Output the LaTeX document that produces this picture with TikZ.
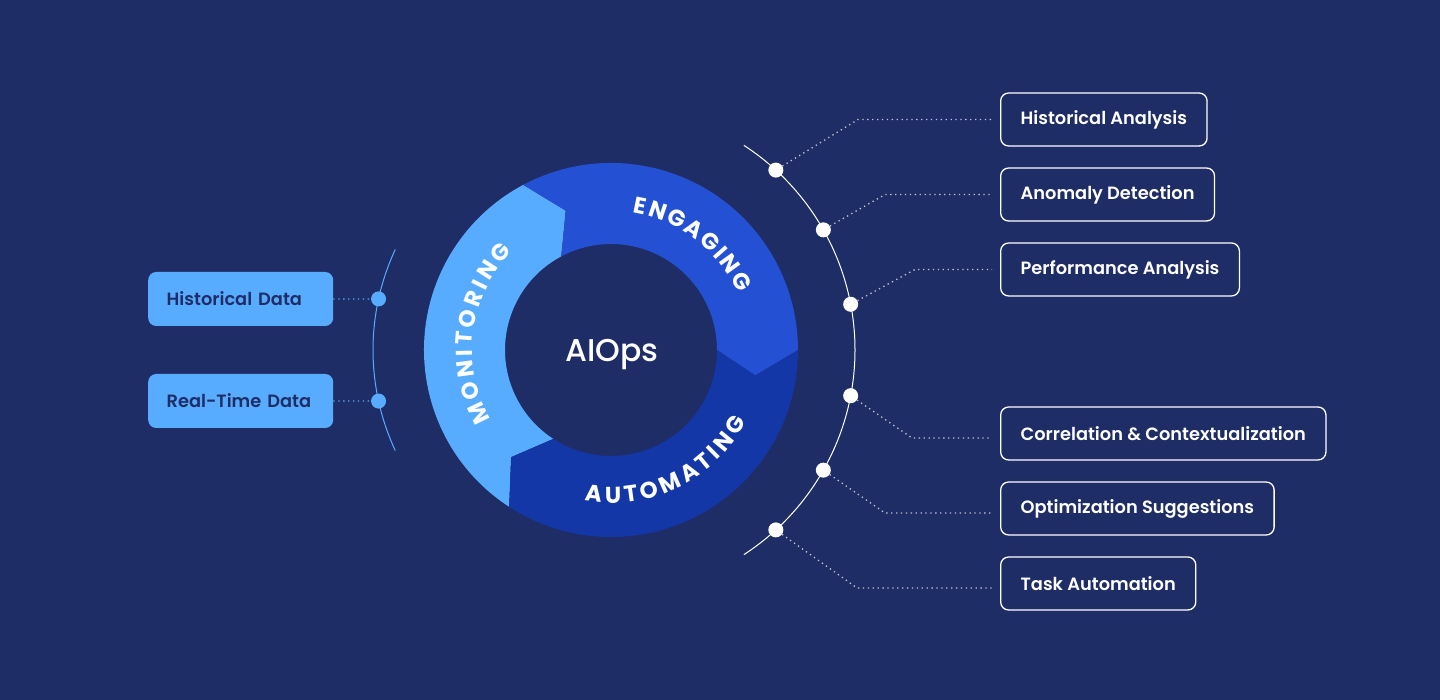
\documentclass[tikz,border=0pt]{standalone}
\usepackage{fontspec}
\setmainfont{Poppins}
\newfontfamily\semib{Poppins SemiBold}
\newfontfamily\medf{Poppins Medium}
\usepackage{tikz}
\usetikzlibrary{calc}
\usetikzlibrary{decorations.text}
\definecolor{bg}{HTML}{1F2D66}
\definecolor{lb}{HTML}{58ACFF}
\definecolor{eg}{HTML}{2451D3}
\definecolor{au}{HTML}{1437A8}
\tikzstyle{wdot} = [circle, fill=white, minimum size=15pt, inner sep=0pt]
\tikzstyle{bdot} = [circle, fill=lb, minimum size=15pt, inner sep=0pt]
\tikzstyle{outbox} = [draw=white, line width=1.3pt, rounded corners=8pt, minimum height=53pt, inner xsep=20pt, anchor=west, text=white, font=\semib\fontsize{17.8}{20}\selectfont]
\tikzstyle{inbox} = [fill=lb, rounded corners=8pt, minimum height=54pt, text width=148pt, inner xsep=18.5pt, align=left, anchor=west, text=bg, font=\semib\fontsize{17.8}{20}\selectfont]
\tikzstyle{dline} = [white!72!bg, line width=1.3pt, dash pattern=on 1.3pt off 3.6pt, shorten >=8pt]
\tikzstyle{ldline} = [lb, line width=1.3pt, dash pattern=on 1.3pt off 3.6pt]
\tikzstyle{arcword} = [decorate, decoration={text along path, text color=white, text align={fit to path}}]

\begin{document}
\begin{tikzpicture}[x=1pt,y=1pt]
			\fill[bg] (0,0) rectangle (1440,700);
			\coordinate (C) at (611,350);
			% ring of three arrows
			\fill[lb] ($(C)+(237:187)$) arc[start angle=237, end angle=118, radius=187] -- ($(C)+(108:146.5)$) -- ($(C)+(118:106)$) arc[start angle=118, end angle=237, radius=106] -- ($(C)+(227:146.5)$) -- cycle;
			\fill[eg] ($(C)+(118:187)$) arc[start angle=118, end angle=0, radius=187] -- ($(C)+(-10:146.5)$) -- ($(C)+(0:106)$) arc[start angle=0, end angle=118, radius=106] -- ($(C)+(108:146.5)$) -- cycle;
			\fill[au] ($(C)+(0:187)$) arc[start angle=0, end angle=-123, radius=187] -- ($(C)+(-133:146.5)$) -- ($(C)+(-123:106)$) arc[start angle=-123, end angle=0, radius=106] -- ($(C)+(-10:146.5)$) -- cycle;
			\path[arcword, decoration={text={|\bfseries\fontsize{23}{23}\selectfont|MONITORING}}] ($(C)+(210:139)$) arc[start angle=210, end angle=135, radius=139];
			\path[arcword, decoration={text={|\bfseries\fontsize{23}{23}\selectfont|ENGAGING}}] ($(C)+(81:139)$) arc[start angle=81, end angle=24, radius=139];
			\path[arcword, decoration={text={|\bfseries\fontsize{23}{23}\selectfont|AUTOMATING}}] ($(C)+(260:153)$) arc[start angle=260, end angle=332, radius=153];
			\node[anchor=base, inner sep=0pt, text=white, font=\medf\fontsize{31.5}{32}\selectfont] (ai) at ($(C)+(1,-12)$) {AIOps};
			% inputs
			\draw[lb, line width=1pt] ($(C)+(155:238)$) arc[start angle=155, end angle=205, radius=238];
			\node[bdot] (p1) at ($(C)+(167.6:238)$) {};
			\node[bdot] (p2) at ($(C)+(192.4:238)$) {};
			\node[inbox] (h1) at (148,401) {Historical Data};
			\node[inbox] (h2) at (148,299) {Real-Time Data};
			\draw[ldline] (h1.east) -- (p1);
			\draw[ldline] (h2.east) -- (p2);
			% outputs
			\draw[white, line width=1pt] ($(C)+(57:244)$) arc[start angle=57, end angle=-57, radius=244];
			\node[wdot] (d1) at ($(C)+(47.5:244)$) {};
			\node[wdot] (d2) at ($(C)+(29.5:244)$) {};
			\node[wdot] (d3) at ($(C)+(10.8:244)$) {};
			\node[wdot] (d4) at ($(C)+(-10.8:244)$) {};
			\node[wdot] (d5) at ($(C)+(-29.5:244)$) {};
			\node[wdot] (d6) at ($(C)+(-47.5:244)$) {};
			\node[outbox] (o1) at (1000,580.5) {Historical Analysis};
			\node[outbox] (o2) at (1000,505.5) {Anomaly Detection};
			\node[outbox] (o3) at (1000,430.5) {Performance Analysis};
			\node[outbox] (o4) at (1000,266.5) {Correlation \& Contextualization};
			\node[outbox] (o5) at (1000,191.5) {Optimization Suggestions};
			\node[outbox] (o6) at (1000,116.5) {Task Automation};
			\draw[dline] (d1) -- ([xshift=-142pt]o1.west) -- (o1.west);
			\draw[dline] (d2) -- ([xshift=-115pt]o2.west) -- (o2.west);
			\draw[dline] (d3) -- ([xshift=-85pt]o3.west) -- (o3.west);
			\draw[dline] (d4) -- ([xshift=-88pt,yshift=-4.5pt]o4.west) -- ([yshift=-4.5pt]o4.west);
			\draw[dline] (d5) -- ([xshift=-115pt,yshift=-4.5pt]o5.west) -- ([yshift=-4.5pt]o5.west);
			\draw[dline] (d6) -- ([xshift=-143pt,yshift=-4.5pt]o6.west) -- ([yshift=-4.5pt]o6.west);
		\end{tikzpicture}
\end{document}
